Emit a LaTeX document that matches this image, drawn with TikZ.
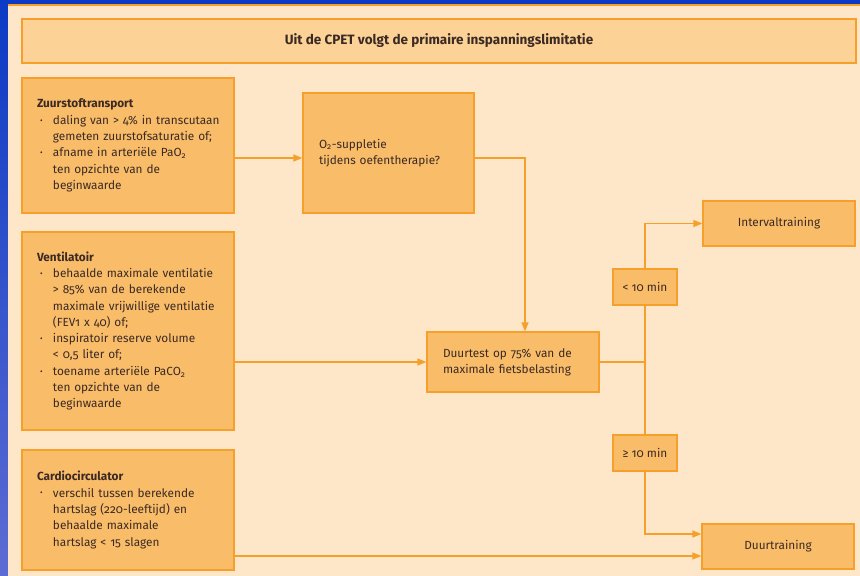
\documentclass[tikz,border=0pt]{standalone}
\usepackage{fontspec}
\setmainfont{Fira Sans}[Numbers=OldStyle]
\usepackage{xcolor}
\definecolor{bgblue}{HTML}{0B3AC4}
\definecolor{bgbluelight}{HTML}{5D6CD3}
\definecolor{panelpeach}{HTML}{FEE6C8}
\definecolor{boxorange}{HTML}{F9BC69}
\definecolor{titleorange}{HTML}{FCD296}
\definecolor{lineorange}{HTML}{F6A02B}
\definecolor{textbrown}{HTML}{3B2A24}
\usepackage{tikz}
\usetikzlibrary{arrows.meta, positioning}

% bullet lines inside the criteria boxes
\newcommand{\bitem}[1]{\hspace*{3pt}\makebox[13pt][l]{\raisebox{0.2ex}{\fontsize{8}{8}\selectfont\textbullet}}\mbox{#1}}
\newcommand{\bcont}[1]{\hspace*{16pt}\mbox{#1}}

\tikzset{
  flowbox/.style={draw=lineorange, line width=1.2pt, fill=boxorange, text=textbrown,
    font=\fontsize{11.8}{16.3}\selectfont, inner sep=0pt},
  critbox/.style={flowbox, minimum width=212pt, text width=182pt, align=left},
  smallbox/.style={flowbox, minimum width=64pt, minimum height=36pt, align=center},
  endbox/.style={flowbox, minimum width=152pt, minimum height=45pt, align=center},
  flowline/.style={draw=lineorange, line width=1.2pt},
  flowarrow/.style={flowline, -{Triangle[length=9pt, width=7pt]}},
}

\begin{document}
\begin{tikzpicture}[x=1pt, y=-1pt]
    \useasboundingbox (0,0) rectangle (860,576);
    % background
    \shade[top color=bgblue, bottom color=bgbluelight] (0,0) rectangle (8,576);
    \fill[bgblue] (8,0) rectangle (860,5);
    \fill[panelpeach] (8,5) rectangle (860,576);
    \draw[lineorange, line width=1.2pt] (8,5) -- (860,5);

    % Title
    \node[flowbox, fill=titleorange, minimum width=834pt, minimum height=44pt,
          font=\fontsize{13.5}{15}\selectfont\bfseries] (title) at (439,41)
        {Uit de CPET volgt de primaire inspanningslimitatie};

    % Limitations
    \node[critbox, minimum height=135pt] (zuurstof) at (128,145.5) {%
        \textbf{Zuurstoftransport}\\
        \bitem{daling van > 4\% in transcutaan}\\
        \bcont{gemeten zuurstofsaturatie of;}\\
        \bitem{afname in arteriële PaO\textsubscript{2}}\\
        \bcont{ten opzichte van de}\\
        \bcont{beginwaarde}};
    \node[critbox, minimum height=198pt] (ventilatoir) at (128,331) {%
        \textbf{Ventilatoir}\\
        \bitem{behaalde maximale ventilatie}\\
        \bcont{> 85\% van de berekende}\\
        \bcont{maximale vrijwillige ventilatie}\\
        \bcont{(FEV1 x 40) of;}\\
        \bitem{inspiratoir reserve volume}\\
        \bcont{< 0,5 liter of;}\\
        \bitem{toename arteriële PaCO\textsubscript{2}}\\
        \bcont{ten opzichte van de}\\
        \bcont{beginwaarde}};
    \node[critbox, minimum height=120pt] (cardio) at (128,510) {%
        \textbf{Cardiocirculator}\\
        \bitem{verschil tussen berekende}\\
        \bcont{hartslag (220-leeftijd) en}\\
        \bcont{behaalde maximale}\\
        \bcont{hartslag < 15 slagen}};

    % Test and decisions
    \node[flowbox, minimum width=171pt, minimum height=120pt, text width=139pt, align=left]
        (suppletie) at (388.5,153) {O\textsubscript{2}-suppletie\\tijdens oefentherapie?};
    \node[flowbox, minimum width=172pt, minimum height=60pt, text width=140pt, align=left]
        (duurtest) at (513,362) {Duurtest op 75\% van de\\maximale fietsbelasting};
    \node[smallbox] (kort) at (645,287) {< 10 min};
    \node[smallbox] (lang) at (645,453) {≥ 10 min};
    \node[endbox] (interval) at (779,223.5) {Intervaltraining};
    \node[endbox] (duurtraining) at (778,546.5) {Duurtraining};

    % Connectors
    \draw[flowarrow] (zuurstof.east |- 0,158) -- ([yshift=-5pt]suppletie.west);
    \draw[flowarrow] ([yshift=-5pt]suppletie.east) -| ([xshift=12pt]duurtest.north);
    \draw[flowarrow] (ventilatoir.east |- duurtest.west) -- (duurtest.west);
    \draw[flowline] (duurtest.east) -| (kort.south);
    \draw[flowline] (kort.south) -- (lang.north);
    \draw[flowarrow] (kort.north) |- (interval.west);
    \draw[flowarrow] (lang.south) |- ([yshift=12.5pt]duurtraining.west);
    \draw[flowarrow] (cardio.east |- 0,556) -- ([yshift=-9.5pt]duurtraining.west);
\end{tikzpicture}
\end{document}
